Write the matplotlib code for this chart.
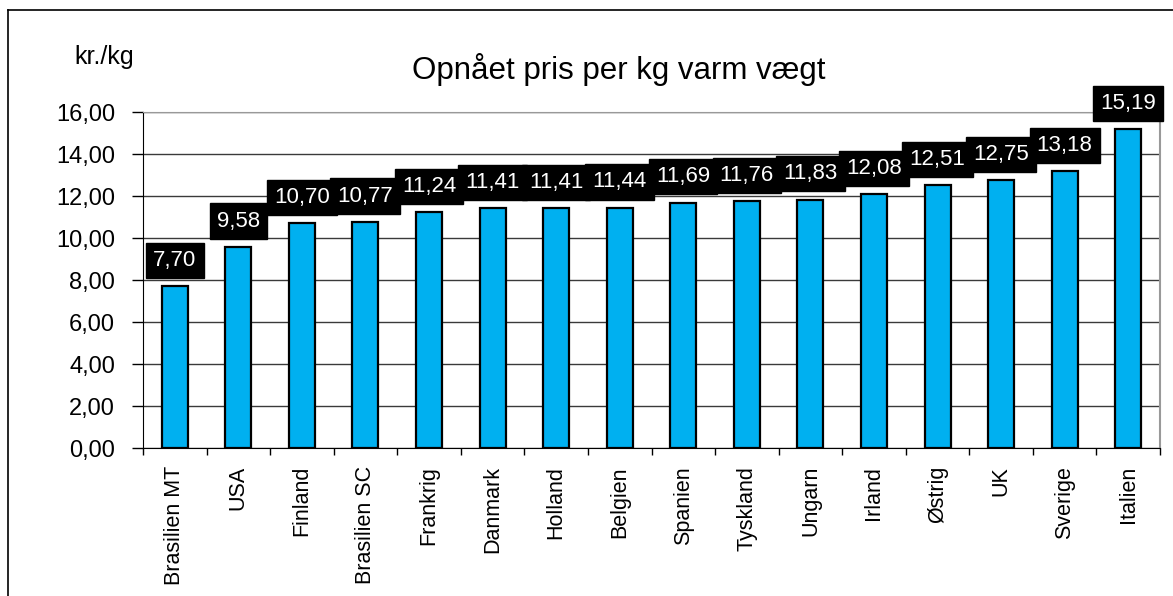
import matplotlib.pyplot as plt
from matplotlib.lines import Line2D
from matplotlib.ticker import FuncFormatter, FixedLocator

plt.rcParams['font.family'] = ['Liberation Sans', 'DejaVu Sans']

# data
countries = ['Brasilien MT', 'USA', 'Finland', 'Brasilien SC', 'Frankrig', 'Danmark',
             'Holland', 'Belgien', 'Spanien', 'Tyskland', 'Ungarn', 'Irland',
             'Østrig', 'UK', 'Sverige', 'Italien']
prices = [7.70, 9.58, 10.70, 10.77, 11.24, 11.41, 11.41, 11.44, 11.69, 11.76,
          11.83, 12.08, 12.51, 12.75, 13.18, 15.19]
yticks = [0, 2, 4, 6, 8, 10, 12, 14, 16]

fig = plt.figure(figsize=(11.73, 5.96), dpi=100)
ax = fig.add_axes([143 / 1173, 1 - 448 / 596, (1160 - 143) / 1173, (448 - 112) / 596])

x = range(len(countries))
ax.bar(x, prices, width=0.41, color='#00B0F0', edgecolor='black', linewidth=1.6, zorder=3)

# value labels: black boxes first, then white text on top so overlapping boxes don't hide text
for i, v in enumerate(prices):
    lbl = f'{v:.2f}'.replace('.', ',')
    ax.annotate(lbl, xy=(i, v), xytext=(0, 11), textcoords='offset points',
                ha='center', va='bottom', color='black', fontsize=16, zorder=5,
                bbox=dict(boxstyle='square,pad=0.32', fc='black', ec='black'))
for i, v in enumerate(prices):
    lbl = f'{v:.2f}'.replace('.', ',')
    ax.annotate(lbl, xy=(i, v), xytext=(0, 11), textcoords='offset points',
                ha='center', va='bottom', color='white', fontsize=16, zorder=6)

ax.set_xlim(-0.5, len(countries) - 0.5)
ax.set_ylim(0, 16)
ax.set_yticks(yticks)
ax.yaxis.set_major_formatter(FuncFormatter(lambda v, p: f'{v:.2f}'.replace('.', ',')))
ax.grid(axis='y', color='#3a3a3a', linewidth=1, zorder=0)
ax.set_axisbelow(True)

ax.set_xticks(list(x))
ax.set_xticklabels(countries, rotation=90, fontsize=15.5)
ax.xaxis.set_minor_locator(FixedLocator([i - 0.5 for i in range(len(countries) + 1)]))
ax.tick_params(axis='x', which='major', length=0, pad=13)
ax.tick_params(axis='x', which='minor', length=5, width=1, direction='out')
ax.tick_params(axis='y', length=8, width=1, pad=12, labelsize=17)

ax.spines['left'].set_color('black')
ax.spines['bottom'].set_color('black')
ax.spines['top'].set_color('#999999')
ax.spines['right'].set_color('#999999')
ax.spines['right'].set_linewidth(1.5)

fig.text(619 / 1173, 1 - 70 / 596, 'Opnået pris per kg varm vægt', fontsize=22.5,
         ha='center', va='center')
fig.text(104 / 1173, 1 - 57 / 596, 'kr./kg', fontsize=18, ha='center', va='center')

# outer frame (left and top edges visible)
fig.add_artist(Line2D([7.5 / 1173, 7.5 / 1173], [0, 1 - 10 / 596], color='black',
                      linewidth=1.2, transform=fig.transFigure))
fig.add_artist(Line2D([7.5 / 1173, 1], [1 - 10 / 596, 1 - 10 / 596], color='black',
                      linewidth=1.2, transform=fig.transFigure))

fig.savefig('out.png', dpi=100)
